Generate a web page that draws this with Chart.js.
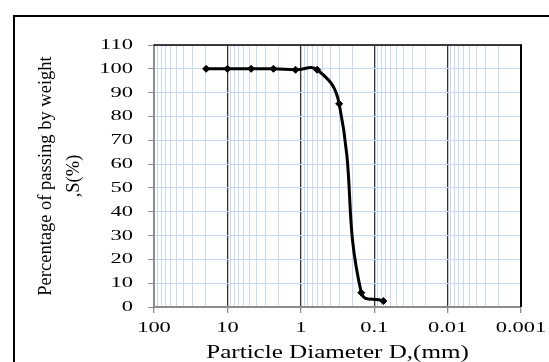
<!DOCTYPE html>
<html>
<head>
<meta charset="utf-8">
<script src="https://cdn.jsdelivr.net/npm/chart.js@4/dist/chart.umd.min.js"></script>
<style>
  html, body { margin: 0; padding: 0; background: #fff; }
  canvas { display: block; }
</style>
</head>
<body>
<canvas id="c" width="549" height="362"></canvas>
<script>
// ---- data ----
const sieveSizes = [19.5, 10, 4.75, 2.36, 1.18, 0.6, 0.3, 0.15, 0.075];      // mm
const percentPassing = [100, 100, 100, 100, 99.6, 99.6, 85.3, 6.0, 2.5];     // %
const xDecades = [100, 10, 1, 0.1, 0.01, 0.001];
const xTickLabels = ['100', '10', '1', '0.1', '0.01', '0.001'];
const yTicks = [0, 10, 20, 30, 40, 50, 60, 70, 80, 90, 100, 110];
const yTickLabels = ['0', '10', '20', '30', '40', '50', '60', '70', '80', '90', '100', '110'];
const xTitle = 'Particle Diameter D,(mm)';
const yTitleLines = ['Percentage of passing by weight', ',S(%)'];

// tick positions: each decade plus its 2..9 multiples (log grid)
const xTickValues = [];
xDecades.slice(1).forEach(d => {
  for (let m = 1; m <= 9; m++) xTickValues.push(Number((m * d).toPrecision(6)));
});
xTickValues.push(xDecades[0]);
const decadeIndex = v => xDecades.findIndex(d => Math.abs(d - v) / d < 1e-6);
const isDecade = v => decadeIndex(v) >= 0;

const FONT = '"Liberation Serif", "Times New Roman", serif';

// text in the reference is horizontally widened; draw it with a horizontal scale
function wideText(ctx, text, x, y, sx, align) {
  ctx.save();
  ctx.translate(x, y);
  ctx.scale(sx, 1);
  ctx.textAlign = align;
  ctx.fillText(text, 0, 0);
  ctx.restore();
}

const framePlugin = {
  id: 'frame',
  afterDraw(chart) {
    const { ctx, chartArea: a } = chart;
    const xs = chart.scales.x, ys = chart.scales.y;
    ctx.save();
    ctx.strokeStyle = '#000';
    // plot area top and right edges
    ctx.lineWidth = 1.5;
    ctx.beginPath(); ctx.moveTo(a.left, a.top); ctx.lineTo(a.right, a.top); ctx.stroke();
    ctx.lineWidth = 2;
    ctx.beginPath(); ctx.moveTo(a.right, a.top - 0.75); ctx.lineTo(a.right, a.bottom); ctx.stroke();
    // outer frame (left and top visible)
    ctx.lineWidth = 2;
    ctx.beginPath(); ctx.moveTo(14, 400); ctx.lineTo(14, 16); ctx.lineTo(600, 16); ctx.stroke();

    ctx.fillStyle = '#000';
    ctx.textBaseline = 'alphabetic';
    // x tick labels (decades only)
    ctx.font = '15.5px ' + FONT;
    xs.ticks.forEach(t => {
      const i = decadeIndex(t.value);
      if (i < 0) return;
      wideText(ctx, xTickLabels[i], xs.getPixelForValue(t.value), 332, 1.45, 'center');
    });
    // y tick labels
    ctx.font = '15px ' + FONT;
    yTicks.forEach((v, i) => {
      wideText(ctx, yTickLabels[i], 133, ys.getPixelForValue(v) + 4, 1.5, 'right');
    });
    // x axis title
    ctx.font = '19px ' + FONT;
    wideText(ctx, xTitle, (a.left + a.right) / 2, 357.5, 1.32, 'center');

    // y axis title (two lines, rotated)
    ctx.font = '18.5px ' + FONT;
    ctx.textAlign = 'center';
    const cy = (a.top + a.bottom) / 2;
    const px = [50.5, 79];
    yTitleLines.forEach((t, i) => {
      ctx.save();
      ctx.translate(px[i], cy);
      ctx.rotate(-Math.PI / 2);
      ctx.fillText(t, 0, 0);
      ctx.restore();
    });
    ctx.restore();
  }
};

Chart.defaults.font.family = FONT;
Chart.defaults.color = '#000';

new Chart(document.getElementById('c'), {
  type: 'line',
  data: {
    datasets: [{
      data: sieveSizes.map((x, i) => ({ x: x, y: percentPassing[i] })),
      borderColor: '#000',
      backgroundColor: '#000',
      borderWidth: 3,
      pointStyle: 'rectRot',
      pointRadius: 3.5,
      pointBorderWidth: 1,
      tension: 0.45,
      fill: false
    }]
  },
  options: {
    responsive: false,
    animation: false,
    devicePixelRatio: 1,
    layout: { padding: { left: 0, top: 45, right: 28, bottom: 0 } },
    plugins: { legend: { display: false }, tooltip: { enabled: false } },
    scales: {
      x: {
        type: 'logarithmic',
        reverse: true,
        min: 0.001,
        max: 100,
        afterBuildTicks: s => { s.ticks = xTickValues.map(v => ({ value: v, major: isDecade(v) })); },
        afterFit: s => { s.height = 55; },
        ticks: { display: false, autoSkip: false, maxRotation: 0, minRotation: 0 },
        grid: {
          color: c => (c.tick && isDecade(c.tick.value)) ? '#333333' : '#c6d9f1',
          lineWidth: c => (c.tick && isDecade(c.tick.value)) ? 1.3 : 1,
          tickColor: c => (c.tick && isDecade(c.tick.value)) ? '#8c8c8c' : 'rgba(0,0,0,0)',
          tickLength: 6
        },
        border: { color: '#8c8c8c', width: 2 },
        title: { display: false, text: xTitle }
      },
      y: {
        min: 0,
        max: 110,
        afterBuildTicks: s => { s.ticks = yTicks.map(v => ({ value: v })); },
        afterFit: s => { s.width = 154; },
        ticks: { display: false },
        grid: {
          color: '#c6d9f1',
          lineWidth: 1,
          tickColor: '#8c8c8c',
          tickLength: 6
        },
        border: { color: '#8c8c8c', width: 2 },
        title: { display: false, text: yTitleLines }
      }
    }
  },
  plugins: [framePlugin]
});
</script>
</body>
</html>
